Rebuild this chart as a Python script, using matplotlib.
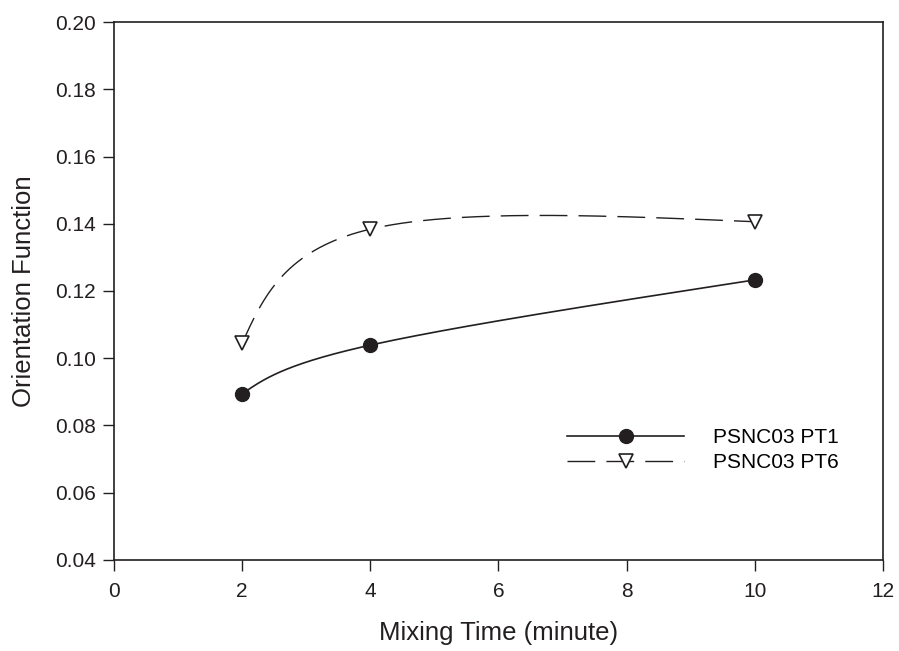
import numpy as np
import matplotlib
matplotlib.use("Agg")
import matplotlib.pyplot as plt

plt.rcParams["font.family"] = ["Liberation Sans", "DejaVu Sans"]

# datos
tiempo = [2, 4, 10]
pt1 = [0.0894, 0.1039, 0.1233]
pt6 = [0.1045, 0.1384, 0.1406]
etiquetas = ["PSNC03 PT1", "PSNC03 PT6"]

XLIM = (0, 12)
YLIM = (0.04, 0.20)
POS = [0.1268, 0.1398, 0.8554, 0.8264]
FIG = (8.99, 6.51)
COR = "#231f20"


def _natural(t, v, te):
    """Spline cúbico natural de v(t) avaliado em te."""
    t = np.asarray(t, float)
    v = np.asarray(v, float)
    k = len(t)
    h = np.diff(t)
    A = np.zeros((k, k))
    b = np.zeros(k)
    A[0, 0] = A[-1, -1] = 1.0
    for i in range(1, k - 1):
        A[i, i - 1] = h[i - 1]
        A[i, i] = 2 * (h[i - 1] + h[i])
        A[i, i + 1] = h[i]
        b[i] = 6 * ((v[i + 1] - v[i]) / h[i] - (v[i] - v[i - 1]) / h[i - 1])
    M = np.linalg.solve(A, b)
    out = np.empty_like(te)
    for j, tt in enumerate(te):
        i = min(np.searchsorted(t, tt, side="right") - 1, k - 2)
        t1 = t[i + 1] - tt
        t0 = tt - t[i]
        out[j] = (M[i] * t1**3 / (6 * h[i]) + M[i + 1] * t0**3 / (6 * h[i])
                  + (v[i] / h[i] - M[i] * h[i] / 6) * t1
                  + (v[i + 1] / h[i] - M[i + 1] * h[i] / 6) * t0)
    return out


def curva(x, y, n=300):
    """Curva suave paramétrica (parâmetro uniforme, espaço de tela)."""
    largura = POS[2] * FIG[0]
    altura = POS[3] * FIG[1]
    px = (np.asarray(x, float) - XLIM[0]) / (XLIM[1] - XLIM[0]) * largura
    py = (np.asarray(y, float) - YLIM[0]) / (YLIM[1] - YLIM[0]) * altura
    t = np.arange(len(px), dtype=float)
    te = np.linspace(0, t[-1], n)
    sx = _natural(t, px, te)
    sy = _natural(t, py, te)
    return (XLIM[0] + sx / largura * (XLIM[1] - XLIM[0]),
            YLIM[0] + sy / altura * (YLIM[1] - YLIM[0]))


fig = plt.figure(figsize=FIG, dpi=100)
ax = fig.add_axes(POS)

xs, ys = curva(tiempo, pt1)
ax.plot(xs, ys, color=COR, lw=1.2)
ax.plot(tiempo, pt1, "o", color=COR, ms=10)

xs, ys = curva(tiempo, pt6)
ax.plot(xs, ys, color=COR, lw=1.0, dashes=(20, 8))
ax.plot(tiempo, pt6, "v", mfc="white", mec=COR, mew=1.2, ms=10)

# legenda
h1, = ax.plot([], [], color=COR, lw=1.2, marker="o", ms=10)
h2, = ax.plot([], [], color=COR, lw=1.0, dashes=(20, 8), marker="v",
              mfc="white", mec=COR, mew=1.2, ms=10)
ax.legend([h1, h2], etiquetas, loc="upper left",
          bbox_to_anchor=(0.565, 0.28), frameon=False, fontsize=15,
          handlelength=5.6, handletextpad=1.4, labelspacing=0.3)

ax.set_xlim(*XLIM)
ax.set_ylim(*YLIM)
ax.set_xticks(range(0, 13, 2))
yt = np.arange(0.04, 0.201, 0.02)
ax.set_yticks(yt)
ax.set_yticklabels([f"{v:.2f}" for v in yt])
ax.tick_params(direction="out", length=8, width=1.0, labelsize=15,
               colors=COR)
ax.tick_params(axis="x", pad=8)
ax.tick_params(axis="y", pad=5)
for s in ax.spines.values():
    s.set_linewidth(1.2)
    s.set_color(COR)

ax.set_xlabel("Mixing Time (minute)", fontsize=18.5, color=COR, labelpad=14)
ax.set_ylabel("Orientation Function", fontsize=18.5, color=COR, labelpad=14)

fig.savefig("out.png", dpi=100)
